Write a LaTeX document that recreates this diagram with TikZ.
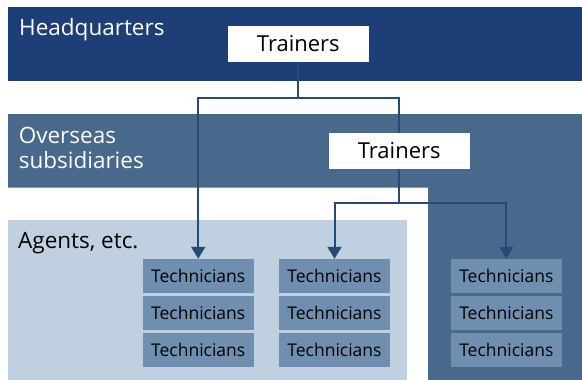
\documentclass[tikz,border=0pt]{standalone}
\usepackage{fontspec}
\setmainfont{Open Sans}
\usetikzlibrary{arrows.meta}
\definecolor{hqcolor}{RGB}{30,62,120}
\definecolor{subcolor}{RGB}{72,104,140}
\definecolor{agentcolor}{RGB}{192,208,224}
\definecolor{techcolor}{RGB}{112,142,176}
\definecolor{linkcolor}{RGB}{38,74,120}
\tikzset{
  trainerbox/.style={fill=white,minimum width=140.6pt,minimum height=35.7pt,inner sep=0pt,
    font=\fontsize{22}{26}\selectfont},
  techbox/.style={fill=techcolor,minimum width=110.6pt,minimum height=34.5pt,inner sep=0pt,
    font=\fontsize{17.5}{20}\selectfont},
  bandlabel/.style={anchor=base west,inner sep=0pt,align=left,
    font=\fontsize{22.5}{25}\selectfont},
  link/.style={draw=linkcolor,line width=2pt},
  linkarrow/.style={link,-{Triangle[length=12pt,width=14pt]}}
}
\begin{document}
\begin{tikzpicture}[x=1pt,y=-1pt]
\useasboundingbox (0,0) rectangle (582,380);
% bands
\fill[hqcolor] (8,7) rectangle (582,80.5);
\fill[subcolor] (8,114) -- (582,114) -- (582,380) -- (428,380) -- (428,187.5) -- (8,187.5) -- cycle;
\fill[agentcolor] (8,220) rectangle (407,380);
\node[bandlabel,text=white] (hq) at (19,35.3) {Headquarters};
\node[bandlabel,text=white,anchor=north west] (sub) at (18.6,127.3) {Overseas\\subsidiaries};
\node[bandlabel] (agents) at (18,248.3) {Agents, etc.};
% trainers
\node[trainerbox] (t1) at (298.3,44) {};
\node[trainerbox] (t2) at (399.2,151) {};
% technicians
\foreach \col/\x in {1/198.2,2/334.5,3/506.3}{
  \foreach \row/\y in {1/276.2,2/313,3/350}{
    \node[techbox] (c\col\row) at (\x,\y) {Technicians};
  }
}
% links
\draw[linkarrow] (t1.south) -- ++(0,36) -| (c11.north);
\draw[link] (t1.south) -- ++(0,36) -| (t2.center);
\draw[linkarrow] (t2.south) -- ++(0,34) -| (c21.north);
\draw[linkarrow] (t2.south) -- ++(0,34) -| (c31.north);
\node[trainerbox] at (t2) {Trainers};
\node[trainerbox] at (t1) {Trainers};
\end{tikzpicture}
\end{document}
